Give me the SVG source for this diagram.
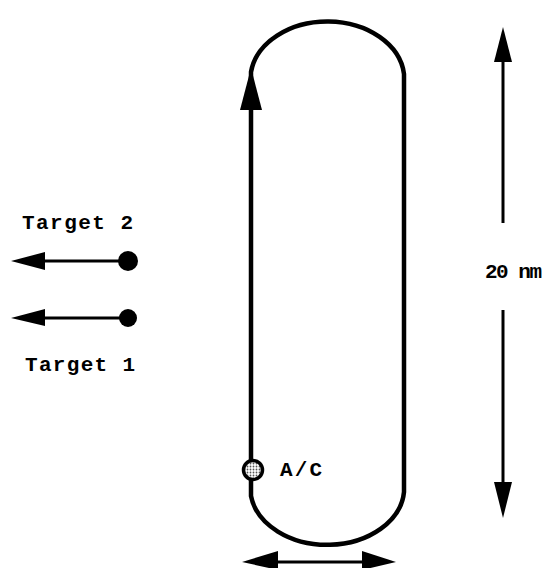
<svg xmlns="http://www.w3.org/2000/svg" width="545" height="568" viewBox="0 0 545 568">
  <style>
    .ln { stroke: #000; stroke-width: 4.5; fill: none; stroke-linecap: round; }
    .thin { stroke: #000; stroke-width: 3; fill: none; }
    .hd { fill: #000; stroke: none; }
    .lbl { font-family: "Liberation Mono", "Courier New", monospace; font-weight: bold; font-size: 21px; fill: #000; }
  </style>
  <defs>
    <pattern id="dots" width="3" height="3" patternUnits="userSpaceOnUse">
      <rect width="3" height="3" fill="#fff"/>
      <circle cx="1.5" cy="1.5" r="0.9" fill="#555"/>
    </pattern>
  </defs>
  <rect width="545" height="568" fill="#fff"/>

  <g id="track">
    <path class="ln" d="M251,496 L251,72 A77,58 0 0 1 404,74 L404,492 A77,57 0 0 1 251,496"/>
    <polygon class="hd" points="251,68 240,110 262,110"/>
  </g>

  <g id="ac">
    <circle cx="253" cy="470" r="9.5" fill="url(#dots)" stroke="#000" stroke-width="3.5"/>
    <text class="lbl" x="280" y="476" textLength="42">A/C</text>
  </g>

  <g id="target2">
    <text class="lbl" x="22" y="229" textLength="111">Target 2</text>
    <circle cx="128" cy="261" r="10" fill="#000"/>
  </g>

  <g id="target1">
    <circle cx="128" cy="318" r="9" fill="#000"/>
    <text class="lbl" x="25" y="371" textLength="110">Target 1</text>
  </g>

  <g id="dim-label">
    <text class="lbl" x="485" y="278" textLength="57">20 nm</text>
  </g>

  <g id="connectors">
    <line class="thin" x1="120" y1="261" x2="40" y2="261"/>
    <polygon class="hd" points="11,261 45,252 45,270"/>
    <line class="thin" x1="120" y1="318" x2="40" y2="318"/>
    <polygon class="hd" points="11,318 45,309 45,326"/>

    <line class="thin" x1="503" y1="55" x2="503" y2="223"/>
    <polygon class="hd" points="503,27 494,62 512,62"/>
    <line class="thin" x1="503" y1="310" x2="503" y2="488"/>
    <polygon class="hd" points="503,518 494,482 512,482"/>

    <line class="thin" x1="272" y1="562" x2="368" y2="562"/>
    <polygon class="hd" points="242,562 278,551 278,570"/>
    <polygon class="hd" points="396,562 362,551 362,570"/>
  </g>
</svg>
